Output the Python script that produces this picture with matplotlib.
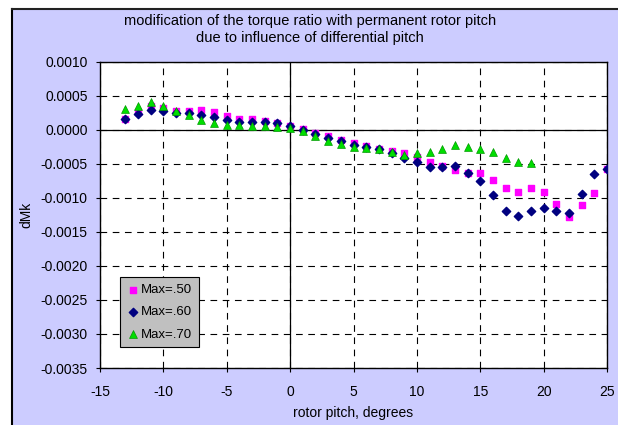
import matplotlib
matplotlib.use("Agg")
import matplotlib.pyplot as plt
from matplotlib.patches import Rectangle

plt.rcParams["font.family"] = ["Liberation Sans", "DejaVu Sans"]
plt.rcParams["axes.unicode_minus"] = False

# rotor pitch positions (degrees)
pitch = list(range(-13, 26))
pitch_70 = list(range(-13, 20))

# dMk values
dmk_50 = [0.00016, 0.00026, 0.00034, 0.00032, 0.00028, 0.00028, 0.00029, 0.00026, 0.00020,
          0.00015, 0.00015, 0.00013, 0.00010, 0.00006, 0.00001, -0.00005, -0.00010, -0.00015,
          -0.00019, -0.00024, -0.00028, -0.00032, -0.00035, -0.00040, -0.00047, -0.00054,
          -0.00060, -0.00063, -0.00064, -0.00074, -0.00086, -0.00091, -0.00086, -0.00091,
          -0.00109, -0.00128, -0.00111, -0.00093, -0.00058]
dmk_60 = [0.00015, 0.00023, 0.00029, 0.00027, 0.00025, 0.00024, 0.00022, 0.00019, 0.00014,
          0.00011, 0.00011, 0.00011, 0.00009, 0.00006, -0.00001, -0.00006, -0.00012, -0.00017,
          -0.00022, -0.00026, -0.00029, -0.00034, -0.00042, -0.00048, -0.00055, -0.00055,
          -0.00053, -0.00063, -0.00075, -0.00096, -0.00119, -0.00127, -0.00119, -0.00115,
          -0.00119, -0.00122, -0.00094, -0.00065, -0.00058]
dmk_70 = [0.00030, 0.00034, 0.00040, 0.00035, 0.00028, 0.00021, 0.00014, 0.00009, 0.00007,
          0.00007, 0.00006, 0.00006, 0.00004, 0.00003, -0.00002, -0.00010, -0.00016, -0.00021,
          -0.00025, -0.00027, -0.00029, -0.00033, -0.00037, -0.00034, -0.00033, -0.00028,
          -0.00023, -0.00025, -0.00028, -0.00033, -0.00042, -0.00048, -0.00049]

x_ticks = [-15, -10, -5, 0, 5, 10, 15, 20, 25]
y_ticks = [0.0010, 0.0005, 0.0000, -0.0005, -0.0010, -0.0015, -0.0020, -0.0025, -0.0030, -0.0035]

W, H = 618, 425
fig = plt.figure(figsize=(W / 100, H / 100), dpi=100)
fig.patch.set_facecolor("white")

# lavender chart area with dark border on left/top
fig.add_artist(Rectangle((12 / W, 0), 1 - 12 / W, 1 - 9 / H, transform=fig.transFigure,
                         facecolor="#CCCCFF", edgecolor="none", zorder=-10))
fig.add_artist(plt.Line2D([12 / W, 12 / W], [0, 1 - 9 / H], transform=fig.transFigure,
                          color="black", lw=1.5, zorder=-9))
fig.add_artist(plt.Line2D([12 / W, 1], [1 - 9 / H, 1 - 9 / H], transform=fig.transFigure,
                          color="#222222", lw=1.5, zorder=-9))

ax = fig.add_axes([100 / W, (H - 368) / H, 507 / W, (368 - 61.5) / H])
ax.set_facecolor("white")

ax.scatter(pitch, dmk_50, marker="s", s=24, color="#FF00FF", label="Max=.50", zorder=3)
ax.scatter(pitch, dmk_60, marker="D", s=18, color="#000080", label="Max=.60", zorder=4)
ax.scatter(pitch_70, dmk_70, marker="^", s=32, color="#00DD00", edgecolors="#009900",
           linewidths=0.5, label="Max=.70", zorder=5)

ax.set_xlim(-15, 25)
ax.set_ylim(-0.0035, 0.0010)
ax.set_xticks(x_ticks)
ax.set_yticks(y_ticks)
ax.set_yticklabels([f"{v:.4f}" for v in y_ticks])
ax.tick_params(labelsize=10, length=3, direction="out", color="black")
ax.tick_params(axis="x", pad=9)
ax.tick_params(axis="y", pad=6)

ax.grid(True, color="black", linestyle=(0, (6, 5)), linewidth=0.8, zorder=1)
ax.axhline(0, color="black", lw=0.9, zorder=2)
ax.axvline(0, color="black", lw=0.9, zorder=2)
for s in ax.spines.values():
    s.set_linewidth(1.0)

ax.set_xlabel("rotor pitch, degrees", fontsize=10, labelpad=5)
ax.set_ylabel("dMk", fontsize=10, labelpad=5)

fig.text(310 / W, 1 - 21 / H, "modification of the torque ratio with permanent rotor pitch",
         ha="center", va="center", fontsize=10.5)
fig.text(310 / W, 1 - 38 / H, "due to influence of differential pitch",
         ha="center", va="center", fontsize=10.5)

leg = ax.legend(loc="lower left", bbox_to_anchor=(0.039, 0.068), fontsize=9.5,
                frameon=True, fancybox=False, framealpha=1, facecolor="#C0C0C0",
                edgecolor="black", handletextpad=0.1, borderpad=0.5, labelspacing=0.75,
                handlelength=1.0, markerscale=1.0, borderaxespad=0)
leg.get_frame().set_linewidth(0.8)

fig.savefig("out.png", dpi=100)
